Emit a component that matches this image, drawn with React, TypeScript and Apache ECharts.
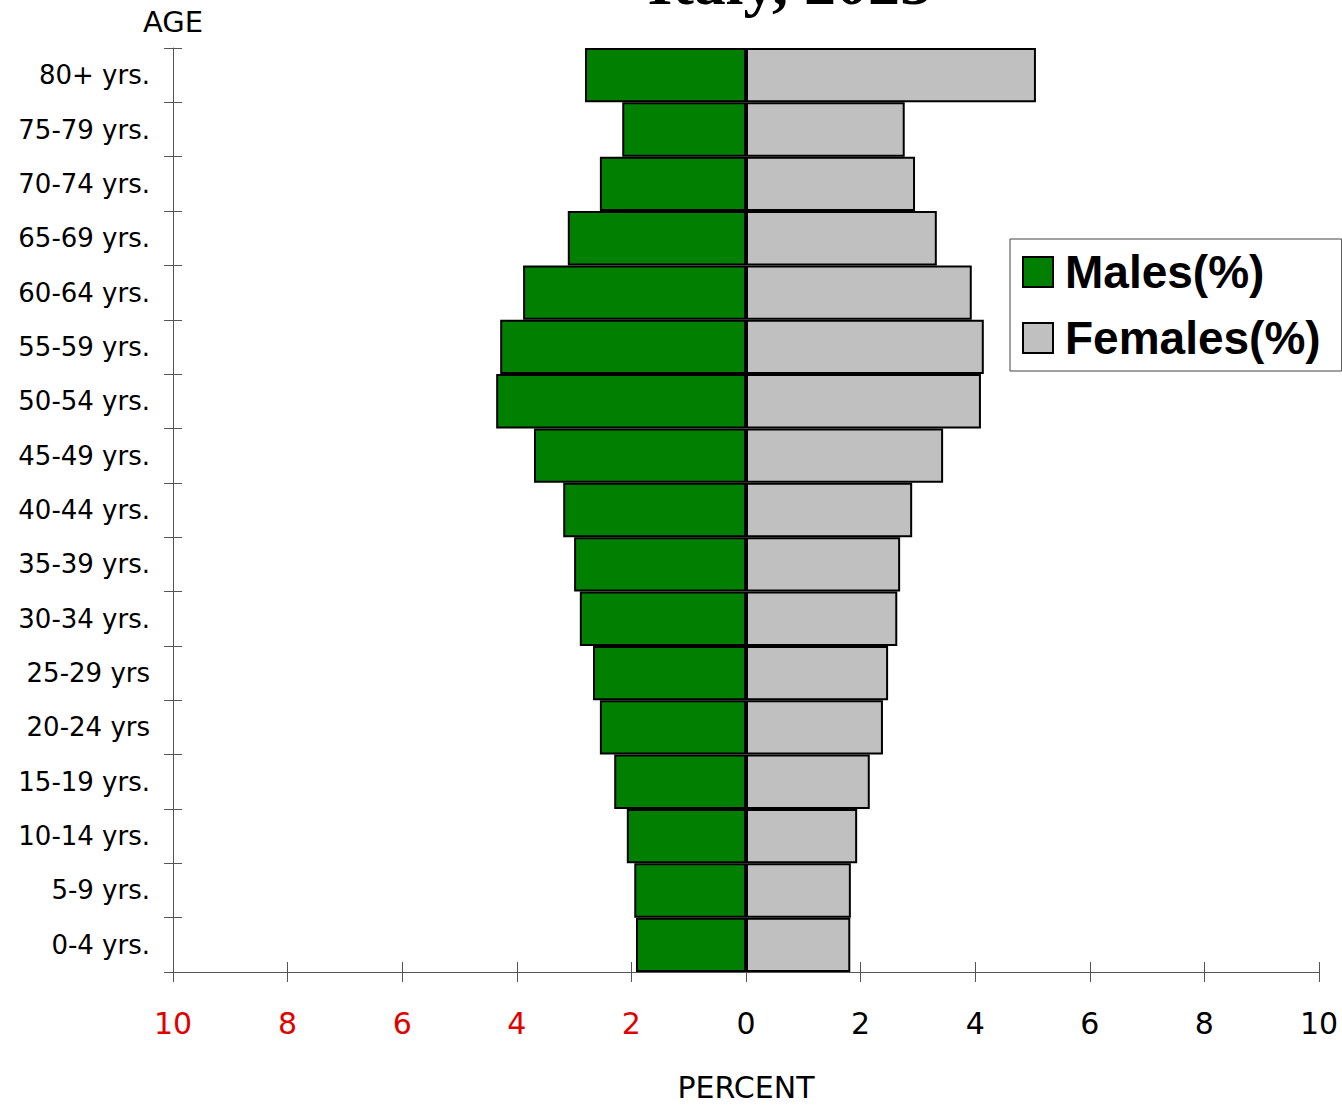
import React, { useEffect, useRef } from "react";
import * as echarts from "echarts";

// Age groups, youngest first (category axis draws the first entry at the bottom)
const ageGroups = [
  "0-4 yrs.",
  "5-9 yrs.",
  "10-14 yrs.",
  "15-19 yrs.",
  "20-24 yrs",
  "25-29 yrs",
  "30-34 yrs.",
  "35-39 yrs.",
  "40-44 yrs.",
  "45-49 yrs.",
  "50-54 yrs.",
  "55-59 yrs.",
  "60-64 yrs.",
  "65-69 yrs.",
  "70-74 yrs.",
  "75-79 yrs.",
  "80+ yrs.",
];

// Share of total population (%)
const malesPct = [1.92, 1.95, 2.08, 2.3, 2.55, 2.67, 2.9, 3.0, 3.19, 3.7, 4.36, 4.29, 3.89, 3.11, 2.55, 2.16, 2.81];
const femalesPct = [1.82, 1.83, 1.94, 2.16, 2.39, 2.48, 2.64, 2.69, 2.9, 3.44, 4.1, 4.15, 3.94, 3.33, 2.95, 2.77, 5.06];

const percentMin = -10;
const percentMax = 10;
const percentStep = 2;

const titleText = "Italy, 2025";
const maleName = "Males(%)";
const femaleName = "Females(%)";

const AXIS_GREY = "#555";
const LABEL_FONT = "DejaVu Sans";

export default function App() {
  const ref = useRef<HTMLDivElement>(null);

  useEffect(() => {
    if (!ref.current) return;
    const chart = echarts.init(ref.current, undefined, { renderer: "svg" });

    const tickStyle = { lineStyle: { color: AXIS_GREY, width: 1 }, length: 10 };

    chart.setOption({
      animation: false,
      backgroundColor: "#fff",
      graphic: [
        {
          type: "text",
          x: 932,
          y: 14,
          style: {
            text: titleText,
            font: 'bold 64px "Liberation Serif"',
            fill: "#000",
            textAlign: "right",
            textVerticalAlign: "bottom",
          },
        },
      ],
      legend: {
        orient: "vertical",
        left: 1010,
        top: 239,
        padding: [10, 21, 10, 12],
        itemGap: 20,
        itemWidth: 30,
        itemHeight: 30,
        borderColor: "#444",
        borderWidth: 1,
        icon: "rect",
        textStyle: {
          fontFamily: "Liberation Sans",
          fontWeight: "bold",
          fontSize: 46,
          color: "#000",
          padding: [0, 0, 0, 7],
        },
        data: [
          { name: maleName, itemStyle: { color: "#007f00", borderColor: "#000", borderWidth: 2 } },
          { name: femaleName, itemStyle: { color: "#c0c0c0", borderColor: "#000", borderWidth: 2 } },
        ],
      },
      grid: { left: 173, right: 23, top: 48, bottom: 128, containLabel: false },
      xAxis: [
        {
          type: "value",
          min: percentMin,
          max: percentMax,
          interval: percentStep,
          name: "PERCENT",
          nameLocation: "middle",
          nameGap: 100,
          nameTextStyle: { fontFamily: LABEL_FONT, fontSize: 30, color: "#000" },
          splitLine: { show: false },
          axisLine: { show: true, onZero: false, lineStyle: { color: AXIS_GREY, width: 1 } },
          axisTick: { show: true, ...tickStyle },
          axisLabel: {
            margin: 36,
            formatter: (v: number) => (v < 0 ? `{r|${-v}}` : `{k|${v}}`),
            rich: {
              r: { color: "#e00000", fontFamily: LABEL_FONT, fontSize: 30 },
              k: { color: "#000", fontFamily: LABEL_FONT, fontSize: 30 },
            },
          },
        },
        {
          // second axis only to draw the upward half of each tick
          type: "value",
          position: "bottom",
          min: percentMin,
          max: percentMax,
          interval: percentStep,
          splitLine: { show: false },
          axisLine: { show: false },
          axisTick: { show: true, inside: true, ...tickStyle },
          axisLabel: { show: false },
        },
      ],
      yAxis: [
        {
          type: "category",
          data: ageGroups,
          name: "AGE",
          nameLocation: "end",
          nameGap: 12,
          nameTextStyle: { fontFamily: LABEL_FONT, fontSize: 29, color: "#000", align: "center", verticalAlign: "bottom" },
          axisLine: { show: true, onZero: false, lineStyle: { color: AXIS_GREY, width: 1 } },
          axisTick: { show: true, ...tickStyle, length: 9 },
          axisLabel: { margin: 23, fontFamily: LABEL_FONT, fontSize: 26, color: "#000" },
        },
        {
          // second axis only to draw the right-hand half of each tick
          type: "category",
          data: ageGroups,
          position: "left",
          axisLine: { show: false, onZero: false },
          axisTick: { show: true, inside: true, ...tickStyle, length: 9 },
          axisLabel: { show: false },
        },
      ],
      series: [
        {
          name: maleName,
          type: "bar",
          xAxisIndex: 0,
          yAxisIndex: 0,
          barWidth: "100%",
          barGap: "-100%",
          data: malesPct.map((v) => -v),
          itemStyle: { color: "#007f00", borderColor: "#000", borderWidth: 2 },
        },
        {
          name: femaleName,
          type: "bar",
          xAxisIndex: 0,
          yAxisIndex: 0,
          barWidth: "100%",
          barGap: "-100%",
          data: femalesPct,
          itemStyle: { color: "#c0c0c0", borderColor: "#000", borderWidth: 2 },
        },
      ],
    });

    return () => chart.dispose();
  }, []);

  return (
    <div
      ref={ref}
      style={{ position: "absolute", left: 0, top: 0, width: 1342, height: 1107 }}
    />
  );
}
